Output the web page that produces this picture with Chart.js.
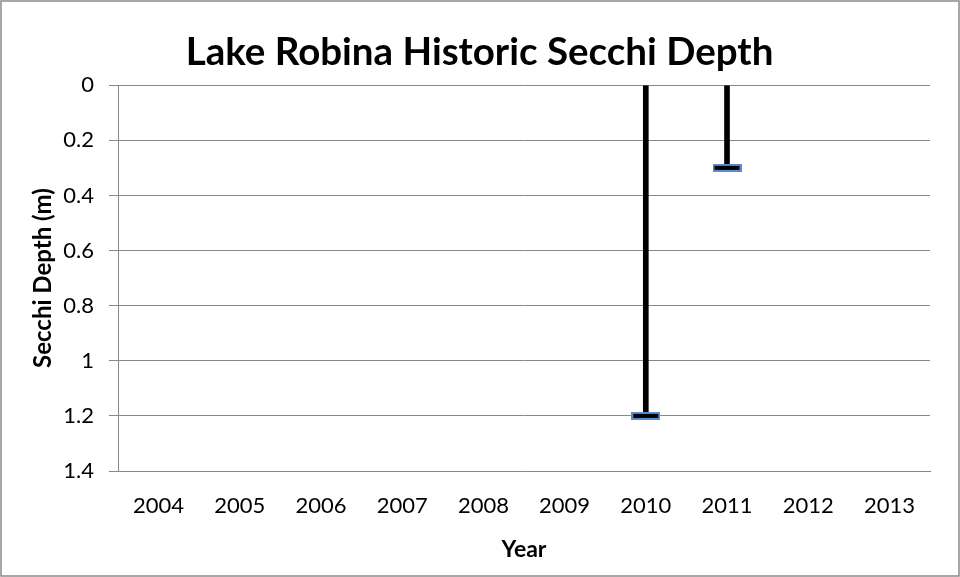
<!DOCTYPE html>
<html><head><meta charset="utf-8">
<script src="https://cdn.jsdelivr.net/npm/chart.js@4.4.1/dist/chart.umd.min.js"></script>
<style>html,body{margin:0;padding:0;background:#fff}</style>
</head><body>
<canvas id="c" width="960" height="577" style="display:block;width:960px;height:577px"></canvas>
<script>
const years = ['2004','2005','2006','2007','2008','2009','2010','2011','2012','2013'];
const secchiDepth = [null, null, null, null, null, null, 1.2, 0.3, null, null];
const chartTitle = 'Lake Robina Historic Secchi Depth';
const xTitle = 'Year';
const yTitle = 'Secchi Depth (m)';
const yMin = 0, yMax = 1.4, yStep = 0.2;

const FONT = 'Lato, "Open Sans", sans-serif';

// marker: short horizontal dash, black fill with blue outline
const marker = document.createElement('canvas');
marker.width = 29; marker.height = 8;
(function(){
  const m = marker.getContext('2d');
  m.fillStyle = '#5b8bd0';
  m.fillRect(0,0,29,8);
  m.fillStyle = '#000';
  m.fillRect(2,2,25,4);
})();

const bgPlugin = {
  id: 'bg',
  beforeDraw(chart){
    const ctx = chart.ctx;
    ctx.save();
    ctx.fillStyle = '#fff';
    ctx.fillRect(0,0,chart.width,chart.height);
    ctx.strokeStyle = '#8a8a8a';
    ctx.lineWidth = 1.5;
    ctx.strokeRect(1,1,chart.width-2,chart.height-2);
    ctx.restore();
  }
};

new Chart(document.getElementById('c'), {
  type: 'bar',
  data: {
    labels: years,
    datasets: [
      {
        type: 'line',
        data: secchiDepth,
        showLine: false,
        pointStyle: marker,
        pointRadius: 10,
        order: 0
      },
      {
        type: 'bar',
        data: secchiDepth,
        backgroundColor: '#000',
        barThickness: 5,
        order: 1
      }
    ]
  },
  options: {
    responsive: false,
    animation: false,
    layout: { padding: { top: 29, left: 29, right: 30, bottom: 14 } },
    plugins: {
      legend: { display: false },
      tooltip: { enabled: false },
      title: {
        display: true,
        text: chartTitle,
        color: '#000',
        font: { family: FONT, size: 38.5, weight: 'bold' },
        padding: { top: 0, bottom: 10 }
      }
    },
    scales: {
      x: {
        afterFit(scale){ scale.height = 92; },
        grid: { display: false },
        border: { display: true, color: '#888', width: 1 },
        ticks: { color: '#000', font: { family: FONT, size: 22 }, padding: 14, maxRotation: 0, minRotation: 0 },
        title: { display: true, text: xTitle, color: '#000', font: { family: FONT, size: 23, weight: 'bold' }, padding: { top: 0, bottom: 0 } }
      },
      y: {
        afterFit(scale){ scale.width = 89; },
        reverse: true,
        min: yMin, max: yMax,
        ticks: { stepSize: yStep, color: '#000', font: { family: FONT, size: 22 }, padding: 15,
                 callback: v => String(Number(v.toFixed(1))) },
        grid: { color: '#888', tickLength: 9, lineWidth: 1 },
        border: { display: true, color: '#888', width: 1 },
        title: { display: true, text: yTitle, color: '#000', font: { family: FONT, size: 24, weight: 'bold' }, padding: { top: 0, bottom: 0 } }
      }
    }
  },
  plugins: [bgPlugin]
});
</script>
</body></html>
